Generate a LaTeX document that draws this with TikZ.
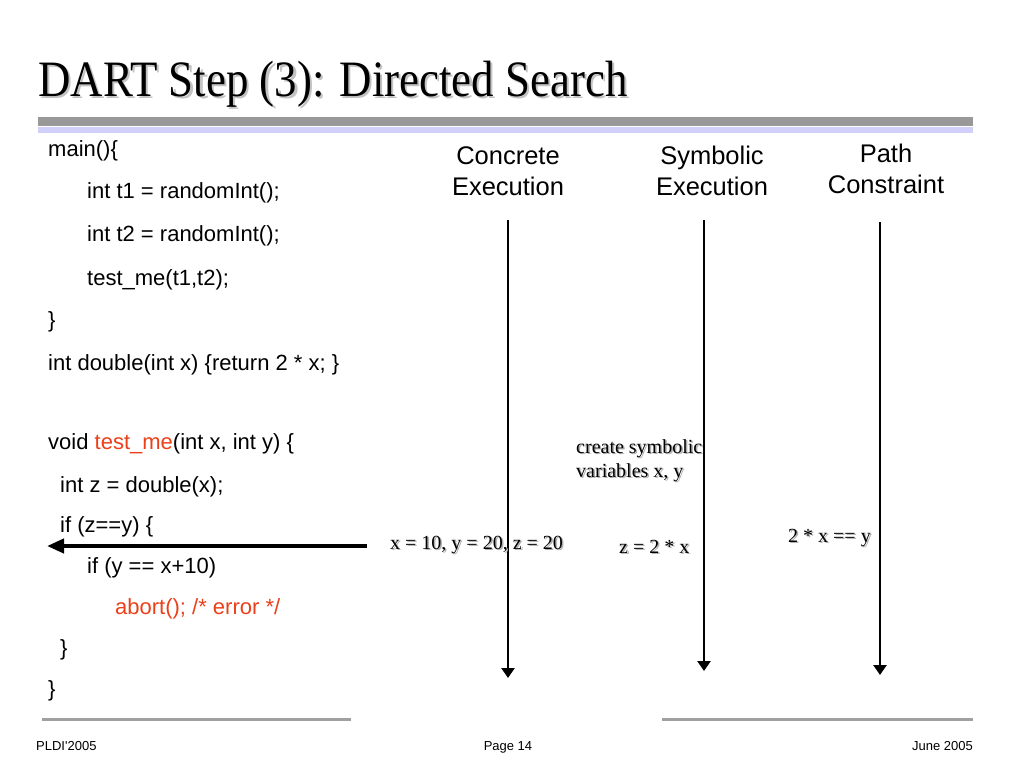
\documentclass[tikz,border=0pt]{standalone}
\usepackage{fontspec}
\usepackage{graphicx}
\setmainfont{Liberation Serif}
\setsansfont{Liberation Sans}
\newfontfamily\arialf{Liberation Sans}
\usetikzlibrary{arrows.meta}
\definecolor{barGray}{RGB}{153,153,153}
\definecolor{barLav}{RGB}{208,208,250}
\definecolor{shadowGray}{RGB}{175,175,175}
\definecolor{titleShadow}{RGB}{195,195,195}
\definecolor{codeRed}{RGB}{235,64,25}
\definecolor{footLine}{RGB}{160,160,160}
\newcommand{\shadowed}[3]{\leavevmode\rlap{\hspace{#1}\raisebox{-#1}{\textcolor{#2}{#3}}}#3}
\tikzset{
  code/.style={anchor=base west, inner sep=0pt, font=\arialf\fontsize{22}{26}\selectfont},
  head/.style={anchor=base, inner sep=0pt, font=\arialf\fontsize{25.5}{30}\selectfont, align=center},
  lbl/.style={anchor=base west, inner sep=0pt, font=\fontsize{20}{24}\selectfont},
  foot/.style={inner sep=0pt, font=\arialf\fontsize{13}{15}\selectfont},
  varrow/.style={line width=2.5pt, -{Triangle[length=10pt,width=13pt]}},
  harrow/.style={line width=4pt, -{Triangle[length=17pt,width=14pt]}},
}
\begin{document}
\begin{tikzpicture}[x=1pt,y=-1pt]
\useasboundingbox (0,0) rectangle (1024,768);
\fill[white] (0,0) rectangle (1024,768);
% title
\node[anchor=base west, inner sep=0pt, font=\fontsize{51}{56}\selectfont] (title) at (38,96)
  {\scalebox{0.88}[1]{\shadowed{2.5pt}{titleShadow}{DART Step (3): Directed Search}}};
% bars
\fill[barGray] (38,117) rectangle (973,126);
\fill[barLav] (38,127) rectangle (973,133);
% code
\node[code] (l1) at (48,156) {main()\{};
\node[code] (l2) at (87,198) {int t1 = randomInt();};
\node[code] (l3) at (87,241) {int t2 = randomInt();};
\node[code] (l4) at (87,285) {test\_me(t1,t2);};
\node[code] (l5) at (48,327) {\}};
\node[code] (l6) at (48,370) {int double(int x) \{return 2 * x; \}};
\node[code] (l7) at (48,449) {void \textcolor{codeRed}{test\_me}(int x, int y) \{};
\node[code] (l8) at (60,492) {int z = double(x);};
\node[code] (l9) at (60,532) {if (z==y) \{};
\node[code] (l10) at (87,573) {if (y == x+10)};
\node[code, text=codeRed] (l11) at (115,614) {abort(); /* error */};
\node[code] (l12) at (60,655) {\}};
\node[code] (l13) at (48,696) {\}};
% headers
\node[head] (h1) at (508,164) {Concrete};
\node[head] (h1b) at (508,195) {Execution};
\node[head] (h2) at (712,164) {Symbolic};
\node[head] (h2b) at (712,195) {Execution};
\node[head] (h3) at (886,162) {Path};
\node[head] (h3b) at (886,193) {Constraint};
% vertical arrows
\coordinate (c1t) at (508,220); \coordinate (c1b) at (508,678);
\coordinate (c2t) at (704,220); \coordinate (c2b) at (704,671);
\coordinate (c3t) at (880,222); \coordinate (c3b) at (880,675);
\draw[varrow] (c1t) -- (c1b);
\draw[varrow] (c2t) -- (c2b);
\draw[varrow] (c3t) -- (c3b);
% horizontal arrow
\coordinate (hs) at (367,546); \coordinate (he) at (47,546);
\draw[harrow] (hs) -- (he);
% labels
\node[lbl] (v1) at (390,549) {\shadowed{1.5pt}{shadowGray}{x = 10, y = 20, z = 20}};
\node[lbl] (s1) at (576,453) {\shadowed{1.5pt}{shadowGray}{create symbolic}};
\node[lbl] (s2) at (576,477) {\shadowed{1.5pt}{shadowGray}{variables x, y}};
\node[lbl] (s3) at (619,553) {\shadowed{1.5pt}{shadowGray}{z = 2 * x}};
\node[lbl] (p1) at (788,542) {\shadowed{1.5pt}{shadowGray}{2 * x == y}};
% footer
\draw[footLine, line width=3pt] (42,719) -- (351,719);
\draw[footLine, line width=3pt] (662,719) -- (973,719);
\node[foot, anchor=base west] (f1) at (36,750) {PLDI'2005};
\node[foot, anchor=base] (f2) at (508,750) {Page 14};
\node[foot, anchor=base east] (f3) at (973,750) {June 2005};
\end{tikzpicture}
\end{document}
